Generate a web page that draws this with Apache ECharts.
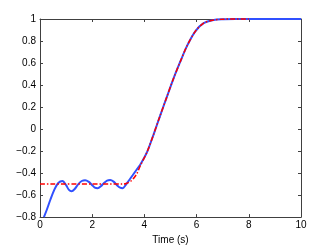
<!DOCTYPE html>
<html><head><meta charset="utf-8">
<script src="https://cdn.jsdelivr.net/npm/echarts@6/dist/echarts.min.js"></script>
<style>html,body{margin:0;padding:0;background:#fff}#c{width:332px;height:250px}</style>
</head><body><div id="c"></div>
<script>
// Reference trajectory (red dash-dot)
var refT = [0, 3.2, 3.3, 3.5, 3.7, 3.85, 4.1, 4.35, 4.6, 4.85, 5.1, 5.37, 5.63, 5.95, 6.27, 6.65, 7.03, 7.5, 8];
var refY = [-0.5, -0.5, -0.495, -0.47, -0.41, -0.33, -0.21, -0.05, 0.12, 0.285, 0.45, 0.61, 0.754, 0.888, 0.962, 0.991, 0.998, 1, 1];
// Response (blue solid)
var respT = [0.15, 0.25, 0.4, 0.55, 0.7, 0.86, 1.0, 1.1, 1.21, 1.33, 1.47, 1.6, 1.73, 1.87, 2.0, 2.1, 2.21, 2.33, 2.45, 2.57, 2.69, 2.82, 2.95, 3.07, 3.17, 3.28, 3.4, 3.55, 3.7, 3.84, 4.1, 4.35, 4.6, 4.85, 5.1, 5.37, 5.63, 5.95, 6.27, 6.65, 7.03, 7.5, 8, 10];
var respY = [-0.8, -0.74, -0.64, -0.55, -0.49, -0.472, -0.51, -0.55, -0.566, -0.545, -0.5, -0.472, -0.465, -0.48, -0.51, -0.532, -0.537, -0.52, -0.49, -0.468, -0.463, -0.478, -0.51, -0.533, -0.537, -0.51, -0.47, -0.42, -0.37, -0.324, -0.21, -0.05, 0.12, 0.285, 0.45, 0.61, 0.754, 0.888, 0.962, 0.991, 0.998, 1, 1, 1];
var xTicks = [0, 2, 4, 6, 8, 10];
var yTicks = [-0.8, -0.6, -0.4, -0.2, 0, 0.2, 0.4, 0.6, 0.8, 1];
var xName = 'Time (s)';

function pairs(a, b) { return a.map(function (v, i) { return [v, b[i]]; }); }
var font = 'Liberation Sans, Arial, sans-serif';
var axCol = '#404040';
function fmtY(v) { var s = (Math.round(v * 10) / 10).toString(); return s.replace('-', '\u2212'); }

var chart = echarts.init(document.getElementById('c'), null, { renderer: 'canvas' });
chart.setOption({
  animation: false,
  grid: { left: 40, right: 31, top: 19, bottom: 28 },
  xAxis: [{
    type: 'value', min: xTicks[0], max: xTicks[xTicks.length - 1], interval: 2,
    name: xName, nameLocation: 'middle', nameGap: 16,
    nameTextStyle: { fontFamily: font, fontSize: 10, color: '#000' },
    axisLine: { onZero: false, lineStyle: { color: axCol, width: 1 } },
    axisTick: { inside: true, length: 3, lineStyle: { color: axCol } },
    axisLabel: { fontFamily: font, fontSize: 10, color: '#000', margin: 3 },
    splitLine: { show: false }
  }, {
    type: 'value', position: 'top', min: 0, max: 10, interval: 2,
    axisLine: { show: true, onZero: false, lineStyle: { color: axCol, width: 1 } },
    axisTick: { inside: true, length: 3, lineStyle: { color: axCol } },
    axisLabel: { show: false }, splitLine: { show: false }
  }],
  yAxis: [{
    type: 'value', min: yTicks[0], max: yTicks[yTicks.length - 1], interval: 0.2,
    axisLine: { show: true, onZero: false, lineStyle: { color: axCol, width: 1 } },
    axisTick: { inside: true, length: 3, lineStyle: { color: axCol } },
    axisLabel: { fontFamily: font, fontSize: 10, color: '#000', margin: 4, formatter: fmtY },
    splitLine: { show: false }
  }, {
    type: 'value', position: 'right', min: -0.8, max: 1, interval: 0.2,
    axisLine: { show: true, onZero: false, lineStyle: { color: axCol, width: 1 } },
    axisTick: { inside: true, length: 3, lineStyle: { color: axCol } },
    axisLabel: { show: false }, splitLine: { show: false }
  }],
  series: [{
    type: 'line', data: pairs(respT, respY), smooth: 0.3, showSymbol: false, symbol: 'none', clip: false,
    lineStyle: { color: '#3050ff', width: 2 }, z: 2
  }, {
    type: 'line', data: pairs(refT, refY), smooth: 0.3, showSymbol: false, symbol: 'none', clip: false,
    lineStyle: { color: '#ff0000', width: 1.5, type: [5, 2, 1.5, 2] }, z: 3
  }]
});
</script></body></html>
